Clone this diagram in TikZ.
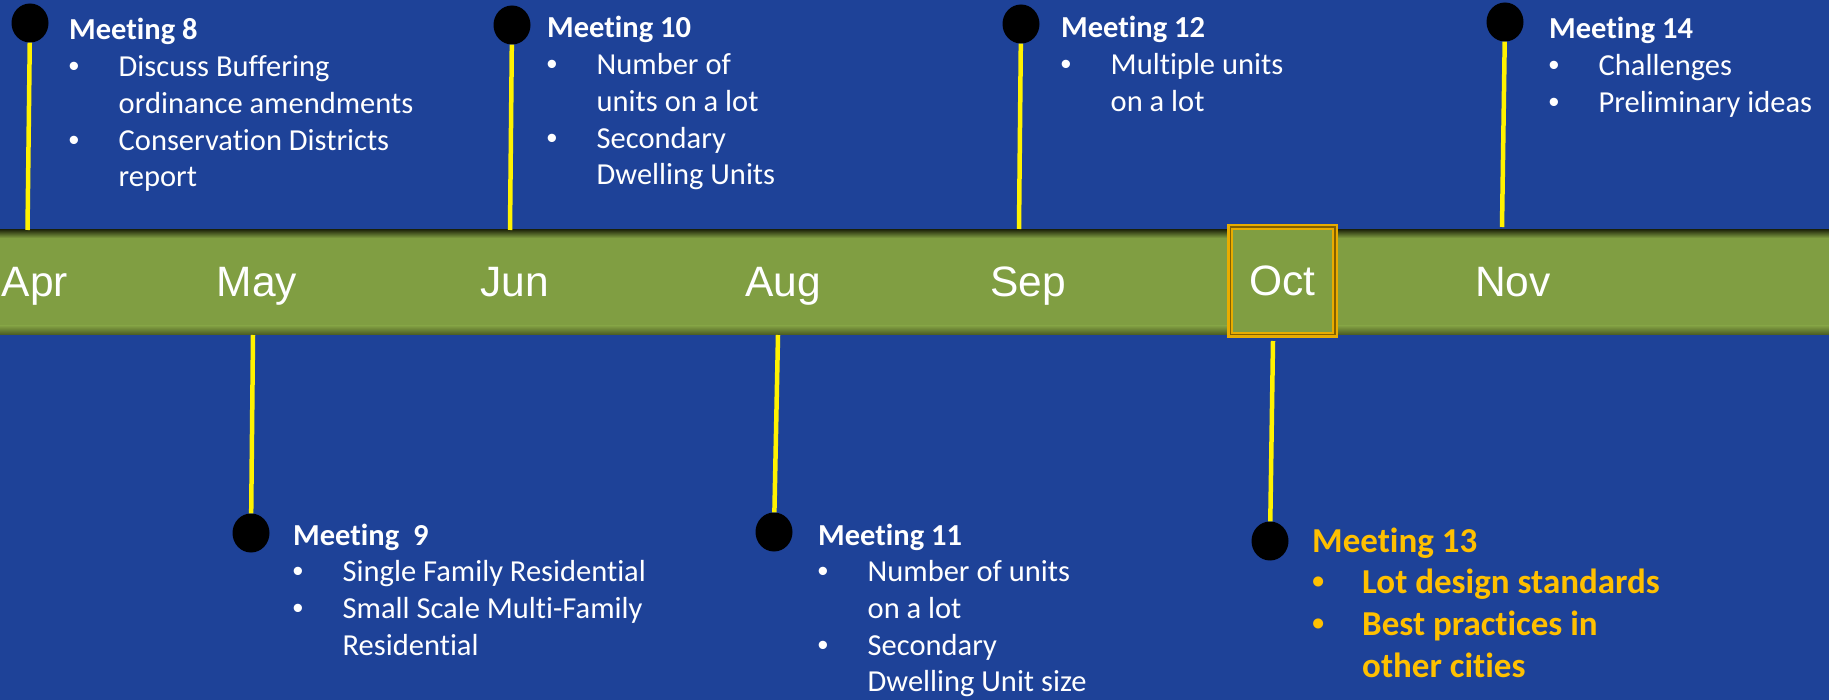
\documentclass[tikz,border=0pt]{standalone}
\usepackage{fontspec}
\setmainfont{Carlito}[Ligatures=NoCommon]
\newfontfamily\arialf{Liberation Sans}
\usetikzlibrary{shapes.geometric}
\definecolor{bgblue}{RGB}{30,66,152}
\definecolor{bargreen}{RGB}{128,158,66}
\definecolor{bardark}{RGB}{38,46,14}
\definecolor{barlow}{RGB}{72,88,32}
\definecolor{goldA}{RGB}{232,172,0}
\definecolor{goldB}{RGB}{130,95,0}
\definecolor{hitext}{RGB}{255,192,0}
\tikzset{
  dot/.style={ellipse, fill=black, minimum width=37pt, minimum height=39pt, inner sep=0pt},
  stem/.style={draw=yellow, line width=4.5pt},
  note/.style={anchor=base west, inner sep=0pt, text=white, font=\fontsize{30.5}{36.7}\selectfont},
  hinote/.style={anchor=base west, inner sep=0pt, text=hitext, font=\fontsize{35}{41.7}\selectfont\bfseries},
  monthfont/.style={text=white, font=\arialf\fontsize{42.5}{50}\selectfont},
  month/.style={monthfont, anchor=base, inner sep=0pt},
  octframe/.style={monthfont, draw=goldA, fill=bargreen, line width=6pt, minimum width=105pt, minimum height=108pt, inner sep=0pt}
}
\newcommand{\tl}[1]{\hbox{\bfseries #1}}
\newcommand{\bl}[1]{\hbox{\makebox[49.5pt][l]{\hspace*{-0.5pt}{\arialf •}}#1}}
\newcommand{\cl}[1]{\hbox{\hspace*{49.5pt}#1}}
\newcommand{\hbl}[1]{\hbox{\makebox[50pt][l]{{\arialf •}}#1}}
\newcommand{\hcl}[1]{\hbox{\hspace*{50pt}#1}}
\begin{document}
\begin{tikzpicture}[x=1pt,y=-1pt]
\useasboundingbox (0,0) rectangle (1829,700);
\fill[bgblue] (0,0) rectangle (1829,700);
% timeline bar
\fill[bargreen] (0,230) rectangle (1829,335);
\shade[top color=bardark, bottom color=bargreen] (0,230) rectangle (1829,238);
\shade[top color=bargreen, bottom color=barlow] (0,326) rectangle (1829,335);
% bar anchor points
\coordinate (s8) at (27.5,230);
\coordinate (s10) at (510,230);
\coordinate (s12) at (1019,229);
\coordinate (s14) at (1502,227);
\coordinate (b9) at (253,335);
\coordinate (b11) at (778,335);
% month labels
\node[month] (apr) at (35,297) {Apr};
\node[month] (may) at (257,297) {May};
\node[month] (jun) at (515,297) {Jun};
\node[month] (aug) at (783,297) {Aug};
\node[month] (sep) at (1028,297) {Sep};
\node[month] (nov) at (1513,297) {Nov};
\node[octframe] (octbox) at (1282.5,281) {Oct};
\draw[goldB, line width=1.8pt] ([shift={(3.4,3.4)}]octbox.north west) rectangle ([shift={(-3.4,-3.4)}]octbox.south east);
% dots
\node[dot] (d8) at (30,23) {};
\node[dot] (d10) at (512,25) {};
\node[dot] (d12) at (1021,24) {};
\node[dot] (d14) at (1505,22) {};
\node[dot] (d9) at (251,533) {};
\node[dot] (d11) at (774,532) {};
\node[dot] (d13) at (1270,541) {};
% stems
\draw[stem] (d8) -- (s8);
\draw[stem] (d10) -- (s10);
\draw[stem] (d12) -- (s12);
\draw[stem] (d14) -- (s14);
\draw[stem] (b9) -- (d9);
\draw[stem] (b11) -- (d11);
\draw[stem] ([xshift=-9.5pt,yshift=-3pt]octbox.south) -- (d13);
% meeting texts
\node[note] (t8) at (69,40) {\vtop{\tl{Meeting 8}\bl{Discuss Buffering}\cl{ordinance amendments}\bl{Conservation Districts}\cl{report}}};
\node[note] (t10) at (547,38) {\vtop{\tl{Meeting 10}\bl{Number of}\cl{units on a lot}\bl{Secondary}\cl{Dwelling Units}}};
\node[note] (t12) at (1061,38) {\vtop{\tl{Meeting 12}\bl{Multiple units}\cl{on a lot}}};
\node[note] (t14) at (1549,39) {\vtop{\tl{Meeting 14}\bl{Challenges}\bl{Preliminary ideas}}};
\node[note] (t9) at (293,545) {\vtop{\tl{Meeting\ \ 9}\bl{Single Family Residential}\bl{Small Scale Multi-Family}\cl{Residential}}};
\node[note] (t11) at (818,545) {\vtop{\tl{Meeting 11}\bl{Number of units}\cl{on a lot}\bl{Secondary}\cl{Dwelling Unit size}}};
\node[hinote] (t13) at (1312,552) {\vtop{\tl{Meeting 13}\hbl{Lot design standards}\hbl{Best practices in}\hcl{other cities}}};
\end{tikzpicture}
\end{document}
